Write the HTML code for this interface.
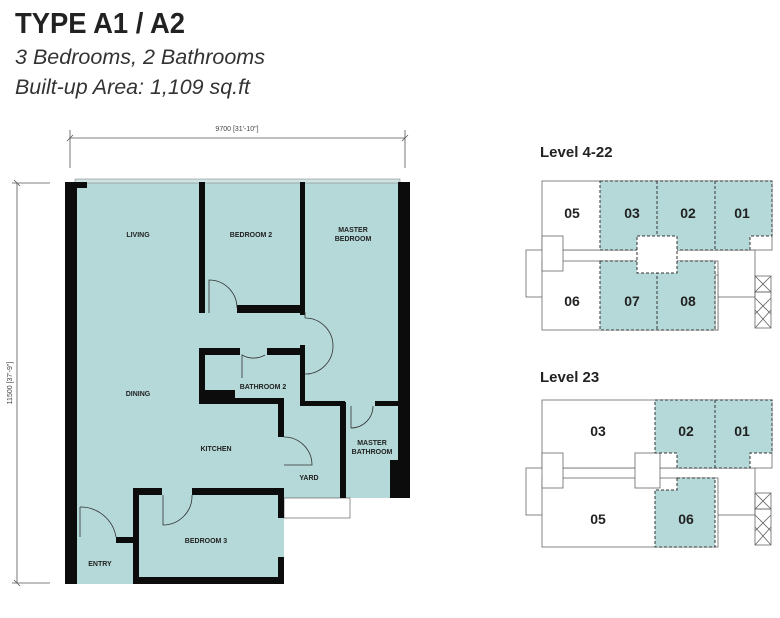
<!DOCTYPE html>
<html><head><meta charset="utf-8"><style>
html,body{margin:0;padding:0;background:#fff;width:780px;height:618px;overflow:hidden}
svg{display:block}
</style></head><body>
<svg width="780" height="618" viewBox="0 0 780 618" xmlns="http://www.w3.org/2000/svg" font-family="Liberation Sans, sans-serif">
<text x="15" y="33" font-size="29" font-weight="bold" fill="#222" textLength="170" lengthAdjust="spacingAndGlyphs">TYPE A1 / A2</text>
<text x="15" y="64" font-size="21" font-style="italic" fill="#333" textLength="250" lengthAdjust="spacingAndGlyphs">3 Bedrooms, 2 Bathrooms</text>
<text x="15" y="94" font-size="21" font-style="italic" fill="#333" textLength="235" lengthAdjust="spacingAndGlyphs">Built-up Area: 1,109 sq.ft</text>

<!-- dimensions -->
<g stroke="#555" stroke-width="0.8" fill="none">
<line x1="70" y1="138" x2="405" y2="138"/><line x1="70" y1="130" x2="70" y2="168"/><line x1="405" y1="130" x2="405" y2="168"/>
<line x1="67" y1="141" x2="73" y2="135"/><line x1="402" y1="141" x2="408" y2="135"/>
<line x1="17" y1="183" x2="17" y2="583"/><line x1="12" y1="183" x2="50" y2="183"/><line x1="12" y1="583" x2="50" y2="583"/>
<line x1="14" y1="180" x2="20" y2="186"/><line x1="14" y1="580" x2="20" y2="586"/>
</g>
<text x="237" y="131" font-size="7" fill="#444" text-anchor="middle">9700 [31'-10"]</text>
<text transform="translate(12,383) rotate(-90)" font-size="7" fill="#444" text-anchor="middle">11500 [37'-9"]</text>

<!-- plan fill -->
<polygon points="65,182 410,182 410,498 284,498 284,584 65,584" fill="#b5d9d9"/>
<rect x="284" y="498" width="66" height="20" fill="#fff" stroke="#666" stroke-width="0.7"/>
<rect x="75" y="179" width="325" height="4" fill="#cfe3e3" stroke="#777" stroke-width="0.5"/>
<!-- walls -->
<g fill="#0c0c0c">
<rect x="65" y="182" width="12" height="402"/>
<rect x="65" y="182" width="22" height="6"/>
<rect x="398" y="182" width="12" height="316"/>
<rect x="390" y="460" width="20" height="38"/>
<rect x="199" y="182" width="6" height="131"/>
<rect x="300" y="182" width="5" height="133"/>
<rect x="237" y="305" width="68" height="8"/>
<rect x="300" y="345" width="5" height="58"/>
<rect x="199" y="348" width="41" height="7"/>
<rect x="267" y="348" width="38" height="7"/>
<rect x="199" y="348" width="6" height="56"/>
<rect x="199" y="398" width="85" height="6"/>
<rect x="205" y="390" width="30" height="14"/>
<rect x="278" y="398" width="6" height="39"/>
<rect x="300" y="401" width="45" height="5"/>
<rect x="375" y="401" width="23" height="5"/>
<rect x="340" y="402" width="6" height="96"/>
<rect x="133" y="488" width="29" height="7"/>
<rect x="192" y="488" width="92" height="7"/>
<rect x="133" y="488" width="6" height="96"/>
<rect x="278" y="488" width="6" height="30"/>
<rect x="278" y="557" width="6" height="27"/>
<rect x="116" y="537" width="20" height="6"/>
<rect x="133" y="577" width="151" height="7"/>
</g>
<!-- doors -->
<g fill="none" stroke="#333" stroke-width="0.8">
<path d="M209,313 L209,280 A28,28 0 0 1 237,308"/>
<path d="M305,318 A28,28 0 0 1 305,374 M305,318 L305,312 M305,374 L310,374"/>
<path d="M242,378 L242,355 A23,23 0 0 0 265,355"/>
<path d="M284,437 L284,437 A28,28 0 0 1 312,465 L284,465"/>
<path d="M351,406 L351,428 A22,22 0 0 0 373,406"/>
<path d="M163,495 L163,525 A29,29 0 0 0 192,495"/>
<path d="M80,507 A36,36 0 0 1 116,537 M80,507 L80,537"/>
</g>
<g fill="#222" font-size="7" font-weight="bold" text-anchor="middle">
<text x="138" y="237">LIVING</text>
<text x="251" y="237">BEDROOM 2</text>
<text x="353" y="232">MASTER</text><text x="353" y="241">BEDROOM</text>
<text x="263" y="389">BATHROOM 2</text>
<text x="138" y="396">DINING</text>
<text x="216" y="451">KITCHEN</text>
<text x="372" y="445">MASTER</text><text x="372" y="454">BATHROOM</text>
<text x="309" y="480">YARD</text>
<text x="206" y="543">BEDROOM 3</text>
<text x="100" y="566">ENTRY</text>
</g>

<!-- Level 4-22 -->
<text x="540" y="157" font-size="15" font-weight="bold" fill="#222">Level 4-22</text>
<g fill="#fff" stroke="#666" stroke-width="0.8">
<rect x="526" y="250" width="229" height="47"/>
<rect x="542" y="181" width="230" height="69"/>
<rect x="542" y="261" width="176" height="69"/>
<rect x="542" y="236" width="21" height="35"/>
<rect x="715" y="275" width="3" height="55"/>
</g>
<g fill="#b5d9d9" stroke="#333" stroke-width="1" stroke-dasharray="3,2">
<polygon points="600,181 772,181 772,236 750,236 750,250 600,250"/>
<polygon points="600,261 715,261 715,330 600,330"/>
<line x1="657" y1="181" x2="657" y2="250"/><line x1="715" y1="181" x2="715" y2="250"/><line x1="657" y1="261" x2="657" y2="330"/>
</g>
<rect x="637" y="236" width="40" height="37" fill="#fff" stroke="#333" stroke-dasharray="3,2"/>
<g fill="none" stroke="#666" stroke-width="0.8">
<rect x="755" y="276" width="16" height="16"/><rect x="755" y="292" width="16" height="36"/>
<path d="M755,276 L771,292 M771,276 L755,292 M755,298 L771,314 M771,298 L755,314 M755,310 L771,328 M771,310 L755,328"/>
</g>
<g font-size="14" font-weight="bold" fill="#222" text-anchor="middle">
<text x="572" y="218">05</text><text x="632" y="218">03</text><text x="688" y="218">02</text><text x="742" y="218">01</text>
<text x="572" y="306">06</text><text x="632" y="306">07</text><text x="688" y="306">08</text>
</g>

<!-- Level 23 -->
<text x="540" y="382" font-size="15" font-weight="bold" fill="#222">Level 23</text>
<g fill="#fff" stroke="#666" stroke-width="0.8">
<rect x="526" y="468" width="229" height="47"/>
<rect x="542" y="400" width="230" height="68"/>
<rect x="542" y="478" width="176" height="69"/>
<rect x="542" y="453" width="21" height="35"/>
<rect x="635" y="453" width="25" height="35"/>
</g>
<g fill="#b5d9d9" stroke="#333" stroke-width="1" stroke-dasharray="3,2">
<polygon points="655,400 772,400 772,453 750,453 750,468 677,468 677,453 655,453"/>
<polygon points="677,478 715,478 715,547 655,547 655,490 677,490"/>
<line x1="715" y1="400" x2="715" y2="468"/>
</g>
<g fill="none" stroke="#666" stroke-width="0.8">
<rect x="755" y="493" width="16" height="16"/><rect x="755" y="509" width="16" height="36"/>
<path d="M755,493 L771,509 M771,493 L755,509 M755,515 L771,531 M771,515 L755,531 M755,527 L771,545 M771,527 L755,545"/>
</g>
<g font-size="14" font-weight="bold" fill="#222" text-anchor="middle">
<text x="598" y="436">03</text><text x="686" y="436">02</text><text x="742" y="436">01</text>
<text x="598" y="524">05</text><text x="686" y="524">06</text>
</g>
</svg>
</body></html>
